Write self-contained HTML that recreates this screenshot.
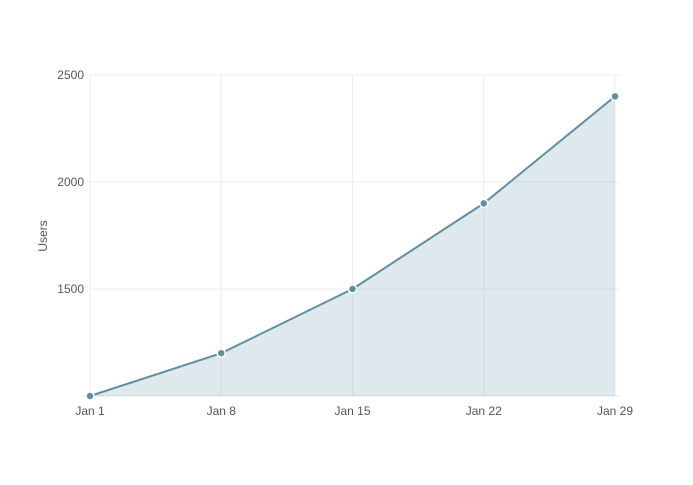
<!DOCTYPE html>
<html><head><meta charset="utf-8"><style>
html,body{margin:0;padding:0;background:#fff;}
svg text{font-family:"Liberation Sans",sans-serif;fill:#555;font-size:12px;}
</style></head><body>
<svg id="chart" width="693" height="480">
<g id="grid"></g>
<g id="area"></g>
<g id="axes"></g>
<text x="47" y="236" text-anchor="middle" transform="rotate(-90 47 236)">Users</text>
</svg>
<script>
const categories = ["Jan 1","Jan 8","Jan 15","Jan 22","Jan 29"];
const users = [1000, 1200, 1500, 1900, 2400];
const yTicks = [1500, 2000, 2500];
const X0=90, X1=615, Y0=396, Y1=75, YMIN=1000, YMAX=2500;
const xs = i => X0 + (X1-X0)*i/(categories.length-1);
const ys = v => Y0 - (v-YMIN)/(YMAX-YMIN)*(Y0-Y1);
const NS="http://www.w3.org/2000/svg";
function mk(tag, attrs, parent){const e=document.createElementNS(NS,tag);for(const k in attrs)e.setAttribute(k,attrs[k]);parent.appendChild(e);return e;}
const grid=document.getElementById('grid'), area=document.getElementById('area'), axes=document.getElementById('axes');
categories.forEach((c,i)=>{
  const l=mk('line',{x1:xs(i),x2:xs(i),y1:Y1,y2:Y0,stroke:'#eee','stroke-width':1},grid);
  
  
  const t=mk('text',{x:xs(i),y:Y0+19,'text-anchor':'middle'},axes);
  t.textContent=c;
  
  
});
yTicks.forEach(v=>{
  const l=mk('line',{x1:X0,x2:X1+5,y1:ys(v),y2:ys(v),stroke:'#eee','stroke-width':1},grid);
  
  
  const t=mk('text',{x:X0-6,y:ys(v)+4,'text-anchor':'end'},axes);
  t.textContent=v;
  
  
});
const base=mk('line',{x1:X0,x2:X1+5,y1:Y0,y2:Y0,stroke:'#e4e4e4','stroke-width':1},grid);


const pts=users.map((v,i)=>[xs(i),ys(v)]);
const fill=mk('path',{d:'M'+xs(0)+','+Y0+' '+pts.map(p=>'L'+p[0]+','+p[1]).join(' ')+' L'+xs(users.length-1)+','+Y0+' Z',fill:'rgba(96,142,160,0.2)'},area);


const line=mk('path',{d:pts.map((p,i)=>(i?'L':'M')+p[0]+','+p[1]).join(' '),fill:'none',stroke:'#5f8fa0','stroke-width':2},area);


pts.forEach(p=>{
  const c=mk('circle',{cx:p[0],cy:p[1],r:4,fill:'#5f8fa0',stroke:'#fff','stroke-width':1.5},area);
  
  
});
</script>
</body></html>
